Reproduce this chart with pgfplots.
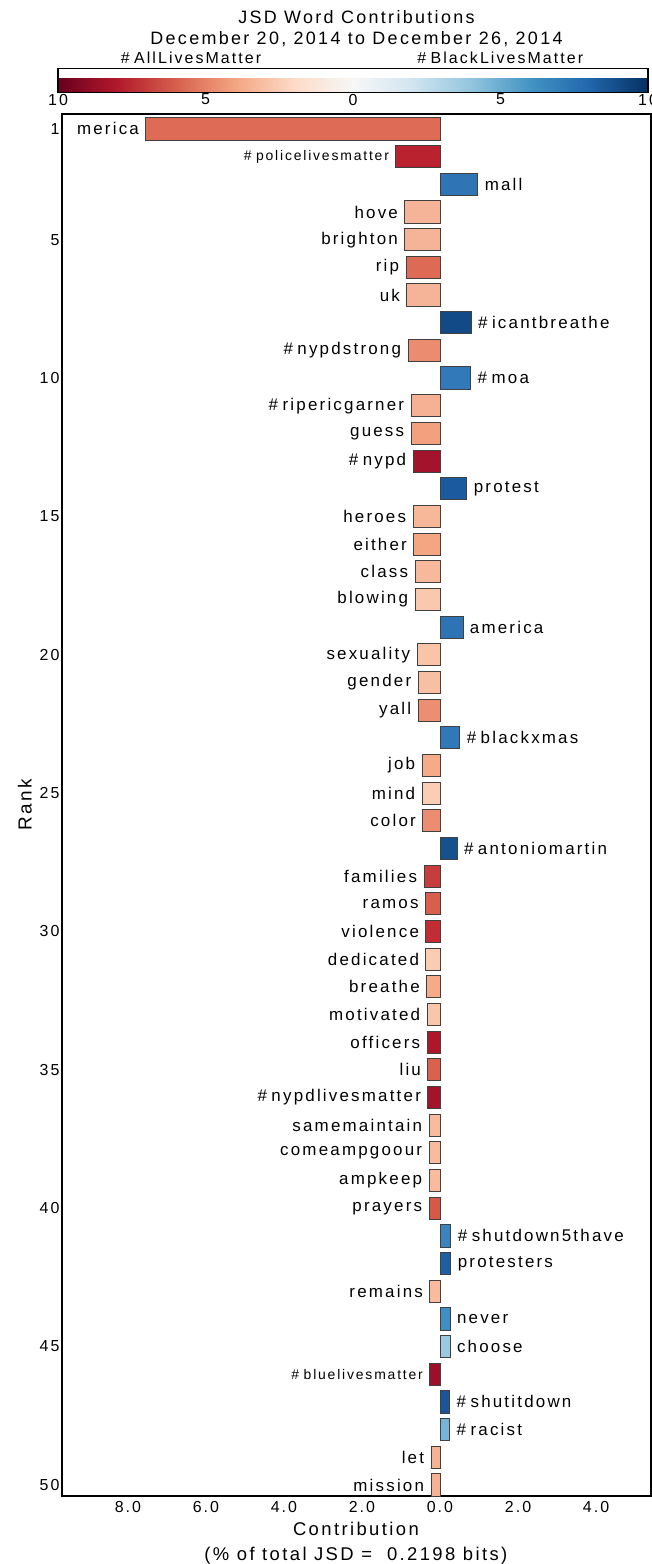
\documentclass[border=0pt]{standalone}
\usepackage{fontspec}
\setmainfont{Liberation Sans}[LetterSpace=13]
\usepackage{pgfplots}
\pgfplotsset{compat=1.18}
\newcommand{\lbl}{\fontsize{17}{19}\selectfont}
\newcommand{\sml}{\fontsize{14}{16}\selectfont}
\newcommand{\hs}{\#\hspace{4.5bp}}
\definecolor{b1}{HTML}{DD6B56}\definecolor{b2}{HTML}{BA2230}\definecolor{b3}{HTML}{2F75B6}
\definecolor{b4}{HTML}{F5B497}\definecolor{b5}{HTML}{F5B497}\definecolor{b6}{HTML}{DC6A55}
\definecolor{b7}{HTML}{F5B497}\definecolor{b8}{HTML}{124A87}\definecolor{b9}{HTML}{EB8B70}
\definecolor{b10}{HTML}{3179B9}\definecolor{b11}{HTML}{F6B093}\definecolor{b12}{HTML}{F3A07F}
\definecolor{b13}{HTML}{A3132C}\definecolor{b14}{HTML}{1C5A9F}\definecolor{b15}{HTML}{F7B799}
\definecolor{b16}{HTML}{F4A582}\definecolor{b17}{HTML}{F7B89B}\definecolor{b18}{HTML}{F9C8AD}
\definecolor{b19}{HTML}{2E74B5}\definecolor{b20}{HTML}{F9C4A8}\definecolor{b21}{HTML}{F8C0A3}
\definecolor{b22}{HTML}{EC8E72}\definecolor{b23}{HTML}{3078B8}\definecolor{b24}{HTML}{F5AA88}
\definecolor{b25}{HTML}{FBCDB3}\definecolor{b26}{HTML}{EC8D72}\definecolor{b27}{HTML}{15508F}
\definecolor{b28}{HTML}{C73D3E}\definecolor{b29}{HTML}{D85F4C}\definecolor{b30}{HTML}{C22C34}
\definecolor{b31}{HTML}{FBCBB2}\definecolor{b32}{HTML}{F5AA88}\definecolor{b33}{HTML}{FAC6AA}
\definecolor{b34}{HTML}{AE172A}\definecolor{b35}{HTML}{D9614D}\definecolor{b36}{HTML}{A3132C}
\definecolor{b37}{HTML}{F8BB9D}\definecolor{b38}{HTML}{F8BB9D}\definecolor{b39}{HTML}{F8BB9D}
\definecolor{b40}{HTML}{D55848}\definecolor{b41}{HTML}{3A83BE}\definecolor{b42}{HTML}{1D5FA3}
\definecolor{b43}{HTML}{F8BB9D}\definecolor{b44}{HTML}{3F8EC4}\definecolor{b45}{HTML}{9CC9E2}
\definecolor{b46}{HTML}{9C0F2A}\definecolor{b47}{HTML}{1A549A}\definecolor{b48}{HTML}{76B4D7}
\definecolor{b49}{HTML}{F6B394}\definecolor{b50}{HTML}{F6B394}
% rank, value, anchor (east/west), label
\newcommand{\hb}[4]{\addplot[fill=b#1, draw=black!75, line width=0.9bp,
  nodes near coords={#4}, nodes near coords style={anchor=#3}] coordinates {(#2,#1)};}
\begin{document}
\begin{tikzpicture}
\useasboundingbox (-62bp,-68bp) rectangle (590bp,1496bp);
\begin{axis}[
  at={(0,0)}, anchor=south west,
  scale only axis, width=589bp, height=1382bp,
  xmin=-9.69, xmax=5.41, ymin=0.46, ymax=50.4, y dir=reverse,
  xbar, bar shift=0pt, bar width=0.8,
  clip=false,
  axis line style={line width=1.3bp},
  major tick length=0pt,
  xtick={-8,-6,-4,-2,0,2,4}, xticklabels={8.0,6.0,4.0,2.0,0.0,2.0,4.0},
  ytick={1,5,10,15,20,25,30,35,40,45,50},
  /pgf/number format/assume math mode=true,
  ticklabel style={font=\fontsize{16}{18}\selectfont},
  xticklabel style={yshift=-2bp},
  yticklabel style={xshift=1bp},
  every node near coord/.style={font=\lbl, inner sep=6.5bp, text=black},
  ylabel={Rank},
  ylabel style={at={(axis description cs:-0.063,0.5)}, anchor=center, rotate=0, font=\fontsize{19}{21}\selectfont},
  xlabel={Contribution\\(\% of total JSD =\ \ 0.2198 bits)},
  xlabel style={at={(axis description cs:0.499,-0.034)}, anchor=center, align=center, font=\fontsize{18.5}{25}\selectfont},
  title={JSD Word Contributions\\December 20, 2014 to December 26, 2014},
  title style={at={(axis description cs:0.5,1)}, anchor=south, yshift=61bp, align=center, inner sep=0pt, font=\fontsize{18}{21}\selectfont},
  colormap={RdBu}{rgb255=(103,0,31) rgb255=(178,24,43) rgb255=(214,96,77) rgb255=(244,165,130) rgb255=(253,219,199) rgb255=(247,247,247) rgb255=(209,229,240) rgb255=(146,197,222) rgb255=(67,147,195) rgb255=(33,102,172) rgb255=(5,48,97)},
  point meta min=-10, point meta max=10,
  colorbar horizontal,
  colorbar style={
    at={(parent axis.north)}, anchor=south, yshift=30bp, xshift=-3.5bp,
    scale only axis, width=590bp, height=24bp,
    xtick={-10,-5,0,5,10}, xticklabels={10,5,0,5,10},
    major tick length=0pt,
    axis line style={line width=1.3bp},
    xticklabel style={font=\fontsize{16}{18}\selectfont, yshift=2bp},
  },
]
\hb{1}{-7.54}{east}{merica}
\hb{2}{-1.13}{east}{\sml\hs policelivesmatter}
\hb{3}{0.97}{west}{mall}
\hb{4}{-0.90}{east}{hove}
\hb{5}{-0.90}{east}{brighton}
\hb{6}{-0.87}{east}{rip}
\hb{7}{-0.85}{east}{uk}
\hb{8}{0.80}{west}{\hs icantbreathe}
\hb{9}{-0.82}{east}{\hs nypdstrong}
\hb{10}{0.79}{west}{\hs moa}
\hb{11}{-0.74}{east}{\hs ripericgarner}
\hb{12}{-0.74}{east}{guess}
\hb{13}{-0.69}{east}{\hs nypd}
\hb{14}{0.69}{west}{protest}
\hb{15}{-0.69}{east}{heroes}
\hb{16}{-0.67}{east}{either}
\hb{17}{-0.64}{east}{class}
\hb{18}{-0.64}{east}{blowing}
\hb{19}{0.59}{west}{america}
\hb{20}{-0.59}{east}{sexuality}
\hb{21}{-0.56}{east}{gender}
\hb{22}{-0.56}{east}{yall}
\hb{23}{0.51}{west}{\hs blackxmas}
\hb{24}{-0.46}{east}{job}
\hb{25}{-0.46}{east}{mind}
\hb{26}{-0.44}{east}{color}
\hb{27}{0.44}{west}{\hs antoniomartin}
\hb{28}{-0.41}{east}{families}
\hb{29}{-0.37}{east}{ramos}
\hb{30}{-0.36}{east}{violence}
\hb{31}{-0.36}{east}{dedicated}
\hb{32}{-0.34}{east}{breathe}
\hb{33}{-0.33}{east}{motivated}
\hb{34}{-0.33}{east}{officers}
\hb{35}{-0.31}{east}{liu}
\hb{36}{-0.31}{east}{\hs nypdlivesmatter}
\hb{37}{-0.28}{east}{samemaintain}
\hb{38}{-0.28}{east}{comeampgoour}
\hb{39}{-0.28}{east}{ampkeep}
\hb{40}{-0.28}{east}{prayers}
\hb{41}{0.28}{west}{\hs shutdown5thave}
\hb{42}{0.28}{west}{protesters}
\hb{43}{-0.26}{east}{remains}
\hb{44}{0.26}{west}{never}
\hb{45}{0.26}{west}{choose}
\hb{46}{-0.26}{east}{\sml\hs bluelivesmatter}
\hb{47}{0.25}{west}{\hs shutitdown}
\hb{48}{0.25}{west}{\hs racist}
\hb{49}{-0.23}{east}{let}
\hb{50}{-0.23}{east}{mission}
\node[font=\fontsize{16}{18}\selectfont] at (axis description cs:0.219,1.0405) {\hs AllLivesMatter};
\node[font=\fontsize{16}{18}\selectfont] at (axis description cs:0.744,1.0405) {\hs BlackLivesMatter};
\end{axis}
\end{tikzpicture}
\end{document}
